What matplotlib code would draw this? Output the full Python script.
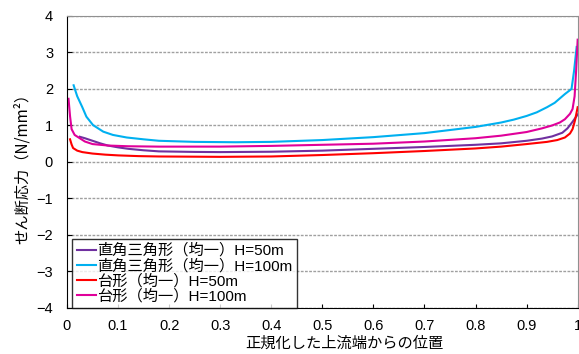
import matplotlib
matplotlib.use('Agg')
import matplotlib.pyplot as plt

plt.rcParams['font.family'] = ['Noto Sans CJK JP', 'DejaVu Sans']

# 直角三角形（均一）H=50m
x_tri50 = [0.025, 0.035, 0.05, 0.065, 0.08, 0.1, 0.12, 0.15, 0.18, 0.25, 0.3, 0.4, 0.5, 0.6, 0.7, 0.8,
           0.85, 0.9, 0.93, 0.95, 0.97, 0.98, 0.99, 1.0]
v_tri50 = [0.69, 0.65, 0.58, 0.51, 0.45, 0.4, 0.36, 0.32, 0.29, 0.275, 0.27, 0.28, 0.31, 0.36, 0.41, 0.47,
           0.51, 0.58, 0.64, 0.7, 0.8, 0.92, 1.1, 1.3]

# 直角三角形（均一）H=100m
x_tri100 = [0.013, 0.02, 0.03, 0.038, 0.051, 0.071, 0.09, 0.117, 0.15, 0.18, 0.25, 0.33, 0.4, 0.5, 0.6,
            0.7, 0.8, 0.85, 0.875, 0.9, 0.92, 0.94, 0.955, 0.965, 0.975, 0.988, 0.993, 0.998]
v_tri100 = [2.1, 1.8, 1.5, 1.24, 1.01, 0.83, 0.74, 0.67, 0.62, 0.58, 0.55, 0.54, 0.55, 0.6, 0.68,
            0.79, 0.96, 1.08, 1.16, 1.26, 1.36, 1.5, 1.62, 1.74, 1.86, 2.0, 2.5, 3.15]

# 台形（均一）H=50m
x_trap50 = [0.006, 0.009, 0.012, 0.02, 0.03, 0.05, 0.075, 0.1, 0.14, 0.18, 0.3, 0.4, 0.5, 0.6, 0.7, 0.8,
            0.85, 0.9, 0.94, 0.96, 0.975, 0.985, 0.99, 0.995, 1.0]
v_trap50 = [0.62, 0.48, 0.38, 0.31, 0.27, 0.23, 0.2, 0.18, 0.16, 0.15, 0.14, 0.15, 0.19, 0.24, 0.3, 0.37,
            0.42, 0.49, 0.55, 0.6, 0.67, 0.78, 0.9, 1.15, 1.5]

# 台形（均一）H=100m
x_trap100 = [0.003, 0.006, 0.009, 0.015, 0.025, 0.035, 0.05, 0.08, 0.12, 0.18, 0.3, 0.4, 0.5, 0.6, 0.7,
             0.8, 0.85, 0.9, 0.93, 0.95, 0.965, 0.975, 0.985, 0.99, 0.994, 0.997, 1.0]
v_trap100 = [1.73, 1.25, 0.9, 0.74, 0.65, 0.56, 0.49, 0.45, 0.43, 0.42, 0.42, 0.44, 0.47, 0.5, 0.56,
             0.65, 0.72, 0.82, 0.92, 1.0, 1.08, 1.17, 1.32, 1.45, 1.8, 2.5, 3.35]

labels = ['直角三角形（均一）H=50m', '直角三角形（均一）H=100m', '台形（均一）H=50m', '台形（均一）H=100m']
colors = ['#7030A0', '#00B0F0', '#FF0000', '#E0009A']

xticks = [0, 0.1, 0.2, 0.3, 0.4, 0.5, 0.6, 0.7, 0.8, 0.9, 1]
xticklabels = ['0', '0.1', '0.2', '0.3', '0.4', '0.5', '0.6', '0.7', '0.8', '0.9', '1']
yticks = [-4, -3, -2, -1, 0, 1, 2, 3, 4]

fig = plt.figure(figsize=(5.79, 3.54), dpi=100)
ax = fig.add_axes([0.1157, 0.13, 0.882, 0.825])

series = [(x_tri50, v_tri50), (x_tri100, v_tri100), (x_trap50, v_trap50), (x_trap100, v_trap100)]
for (xs, vs), lab, c in zip(series, labels, colors):
    ax.plot(xs, vs, color=c, lw=1.5, label=lab, solid_joinstyle='round')

ax.set_xlim(0, 1)
ax.set_ylim(-4, 4)
ax.set_xticks(xticks)
ax.set_xticklabels(xticklabels)
ax.set_yticks(yticks)
ax.yaxis.grid(True, color='#a0a0a0', linestyle=(0, (2, 1)), lw=1)
ax.set_axisbelow(True)

for s in ['top', 'right']:
    ax.spines[s].set_color('#909090')
for s in ['left', 'bottom']:
    ax.spines[s].set_color('black')
ax.tick_params(axis='x', direction='in', length=3, labelsize=10.5, pad=8)
ax.tick_params(axis='y', direction='in', length=3.5, labelsize=10.5, pad=10)
for lbl in ax.get_xticklabels() + ax.get_yticklabels():
    lbl.set_family(['Liberation Sans', 'DejaVu Sans'])

ax.set_xlabel('正規化した上流端からの位置', fontsize=11)
ax.xaxis.set_label_coords(0.544, -0.093)
ax.set_ylabel('せん断応力（N/mm²）', fontsize=11)
ax.yaxis.set_label_coords(-0.071, 0.49)

leg = ax.legend(loc='lower left', bbox_to_anchor=(0.01, 0.0), frameon=True,
                prop={'family': ['Liberation Sans', 'Noto Sans CJK JP'], 'size': 11},
                fancybox=False, edgecolor='black', handlelength=1.25, handletextpad=0.1,
                labelspacing=0.04, borderpad=0.3, borderaxespad=0.0)
leg.get_frame().set_linewidth(1.0)

fig.savefig('out.png', dpi=100)
